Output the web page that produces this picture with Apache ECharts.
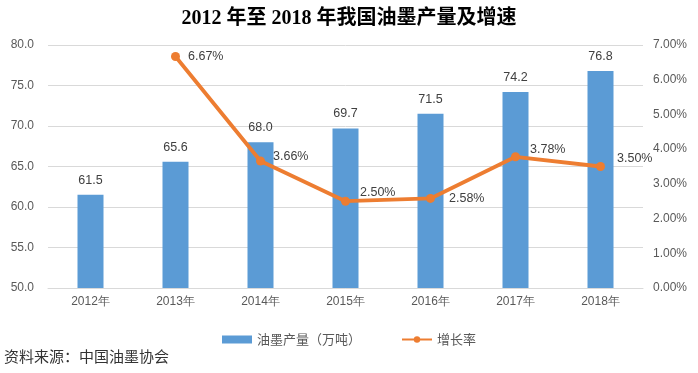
<!DOCTYPE html>
<html><head><meta charset="utf-8">
<script src="https://cdn.jsdelivr.net/npm/echarts@6/dist/echarts.min.js"></script>
<style>html,body{margin:0;padding:0;background:#fff}#c{width:698px;height:373px}</style>
</head><body><div id="c"></div>
<script>
var categories = ['2012年','2013年','2014年','2015年','2016年','2017年','2018年'];
var production = [61.5, 65.6, 68.0, 69.7, 71.5, 74.2, 76.8];
var growth = [null, 6.67, 3.66, 2.50, 2.58, 3.78, 3.50];
var titleText = '2012 年至 2018 年我国油墨产量及增速';
var sourceText = '资料来源：中国油墨协会';

var labelOffsets = [[0,0],[0,0],[0,-4],[2,-9],[6,0],[2,-7],[4,-8]];

var chart = echarts.init(document.getElementById('c'));
chart.setOption({
  animation: false,
  title: {
    text: titleText, left: 'center', top: 4,
    textStyle: {fontFamily: 'Liberation Serif, Noto Sans CJK SC', fontWeight: 'bold', fontSize: 20, color: '#000'}
  },
  graphic: [{
    type: 'text', left: 4, top: 349,
    style: {text: sourceText, font: '15px "Noto Sans CJK SC"', fill: '#333'}
  }],
  legend: {
    bottom: 22, left: 'center', itemGap: 40, itemWidth: 30, itemHeight: 8,
    textStyle: {color: '#595959', fontSize: 13, fontFamily: 'Noto Sans CJK SC'},
    data: [{name: '油墨产量（万吨）', icon: 'rect'}, {name: '增长率'}]
  },
  grid: {left: 48, right: 55, top: 45, bottom: 85},
  xAxis: {
    type: 'category', data: categories,
    axisTick: {show: false},
    axisLine: {lineStyle: {color: '#d9d9d9'}},
    axisLabel: {color: '#595959', fontSize: 12, margin: 8}
  },
  yAxis: [{
    type: 'value', min: 50, max: 80, interval: 5,
    axisLabel: {color: '#595959', fontSize: 12, formatter: function(v){return v.toFixed(1);}, margin: 14},
    splitLine: {lineStyle: {color: '#d9d9d9'}},
    axisLine: {show: false}, axisTick: {show: false}
  }, {
    type: 'value', min: 0, max: 7, interval: 1,
    axisLabel: {color: '#595959', fontSize: 12, formatter: function(v){return v.toFixed(2) + '%';}, margin: 10},
    splitLine: {show: false},
    axisLine: {show: false}, axisTick: {show: false}
  }],
  series: [{
    name: '油墨产量（万吨）', type: 'bar', data: production, barWidth: 26,
    itemStyle: {color: '#5B9BD5'},
    label: {show: true, position: 'top', color: '#404040', fontSize: 12.5, distance: 8,
      formatter: function(p){return p.value.toFixed(1);}}
  }, {
    name: '增长率', type: 'line', yAxisIndex: 1,
    data: growth.map(function(v, i){
      return {value: v, label: {offset: labelOffsets[i]}};
    }),
    symbol: 'circle', symbolSize: 9,
    lineStyle: {color: '#ED7D31', width: 3.8},
    itemStyle: {color: '#ED7D31'},
    label: {show: true, position: 'right', color: '#404040', fontSize: 12.5, distance: 8,
      formatter: function(p){return p.value.toFixed(2) + '%';}}
  }]
});
</script></body></html>
